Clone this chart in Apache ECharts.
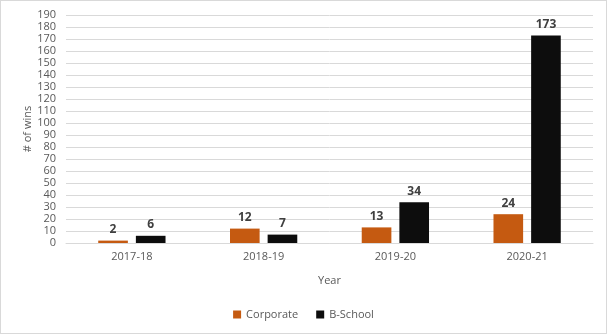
<!DOCTYPE html>
<html><head><meta charset="utf-8">
<script src="https://cdn.jsdelivr.net/npm/echarts@6/dist/echarts.min.js"></script>
<style>html,body{margin:0;padding:0;background:#fff}#c{width:605px;height:332px;border:1px solid #d9d9d9}</style>
</head><body><div id="c"></div>
<script>
var categories = ['2017-18', '2018-19', '2019-20', '2020-21'];
var corporate = [2, 12, 13, 24];
var bschool = [6, 7, 34, 173];
var seriesNames = ['Corporate', 'B-School'];
var chart = echarts.init(document.getElementById('c'));
var font = '"Open Sans", sans-serif';
var lbl = {show: true, position: 'top', color: '#404040', fontWeight: 'bold', fontSize: 12, fontFamily: font, distance: 5};
chart.setOption({
  animation: false,
  textStyle: {fontFamily: font},
  grid: {left: 65, right: 13, top: 14, bottom: 90},
  legend: {bottom: 8, left: 'center', itemWidth: 8, itemHeight: 8, itemGap: 18, icon: 'rect',
    textStyle: {color: '#595959', fontSize: 11, fontFamily: font}, data: seriesNames},
  xAxis: {type: 'category', data: categories, name: 'Year', nameLocation: 'middle', nameGap: 32,
    nameTextStyle: {color: '#595959', fontSize: 11},
    axisLine: {lineStyle: {color: '#d9d9d9'}}, axisTick: {show: false},
    axisLabel: {color: '#595959', fontSize: 11, margin: 8}},
  yAxis: {type: 'value', min: 0, max: 190, interval: 10, name: '# of wins', nameLocation: 'middle', nameGap: 33,
    nameMoveOverlap: false,
    nameTextStyle: {color: '#595959', fontSize: 11},
    axisLine: {show: false}, axisTick: {show: false},
    axisLabel: {color: '#595959', fontSize: 11, margin: 10},
    splitLine: {lineStyle: {color: '#d9d9d9'}}},
  series: [
    {name: seriesNames[0], type: 'bar', data: corporate, barWidth: '22.5%', barGap: '27%', itemStyle: {color: '#c55a11'}, label: lbl},
    {name: seriesNames[1], type: 'bar', data: bschool, barWidth: '22.5%', itemStyle: {color: '#0d0d0d'}, label: lbl}
  ]
});
</script></body></html>
